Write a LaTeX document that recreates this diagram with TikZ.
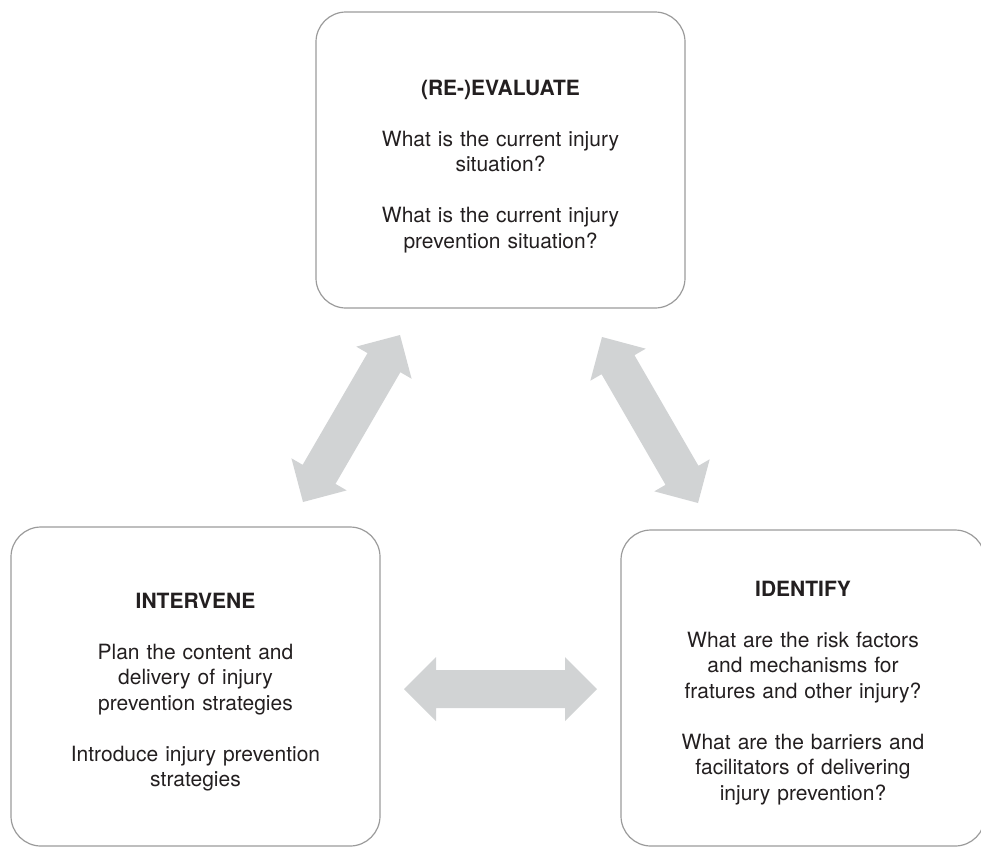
\documentclass[tikz,border=0pt]{standalone}
\usepackage{fontspec}
\setmainfont{TeX Gyre Heros}
\usetikzlibrary{calc}
\definecolor{txtcol}{HTML}{231F20}
\definecolor{boxcol}{HTML}{9B9B9B}
\definecolor{arrcol}{HTML}{D1D3D4}
\def\hl{32pt}
\def\hw{32pt}
\def\sw{19pt}
\newcommand{\dblarrow}[2]{%
  \fill[arrcol] (#1)
    -- ($(#1)!\hl!(#2)!\hw!90:(#2)$)
    -- ($(#1)!\hl!(#2)!\sw!90:(#2)$)
    -- ($(#2)!\hl!(#1)!\sw!-90:(#1)$)
    -- ($(#2)!\hl!(#1)!\hw!-90:(#1)$)
    -- (#2)
    -- ($(#2)!\hl!(#1)!\hw!90:(#1)$)
    -- ($(#2)!\hl!(#1)!\sw!90:(#1)$)
    -- ($(#1)!\hl!(#2)!\sw!-90:(#2)$)
    -- ($(#1)!\hl!(#2)!\hw!-90:(#2)$)
    -- cycle;}
\begin{document}
\begin{tikzpicture}[x=1pt,y=-1pt,
  box/.style={draw=boxcol, line width=1.2pt, rounded corners=30pt, inner sep=0pt},
  txt/.style={text=txtcol, font=\fontsize{21pt}{25.5pt}\selectfont, align=center, text width=350pt, inner sep=0pt, anchor=base}]
\useasboundingbox (0,0) rectangle (981,847);
% boxes
\node[box, minimum width=369pt, minimum height=296pt] (eval) at (500.5,160) {};
\node[box, minimum width=369pt, minimum height=319pt] (interv) at (195.5,686.5) {};
\node[box, minimum width=364pt, minimum height=316pt] (ident) at (803,688) {};
% texts
\node[txt] (evaltxt) at (500.5,95) {\textbf{(RE-)EVALUATE}\\[25.5pt]
  What is the current injury\\ situation?\\[25.5pt]
  What is the current injury\\ prevention situation?};
\node[txt] (intervtxt) at (195.5,608) {\textbf{INTERVENE}\\[25.5pt]
  Plan the content and\\ delivery of injury\\ prevention strategies\\[25.5pt]
  Introduce injury prevention\\ strategies};
\node[txt] (identtxt) at (803,596) {\textbf{IDENTIFY}\\[25.5pt]
  What are the risk factors\\ and mechanisms for\\ fratures and other injury?\\[25.5pt]
  What are the barriers and\\ facilitators of delivering\\ injury prevention?};
% arrow ends
\coordinate (a1s) at (303,502);
\coordinate (a1e) at (400,335);
\coordinate (a2s) at (602,337);
\coordinate (a2e) at (698,503);
\coordinate (a3s) at (404,689);
\coordinate (a3e) at (597,689);
\dblarrow{a1s}{a1e}
\dblarrow{a2s}{a2e}
\dblarrow{a3s}{a3e}
\end{tikzpicture}
\end{document}
